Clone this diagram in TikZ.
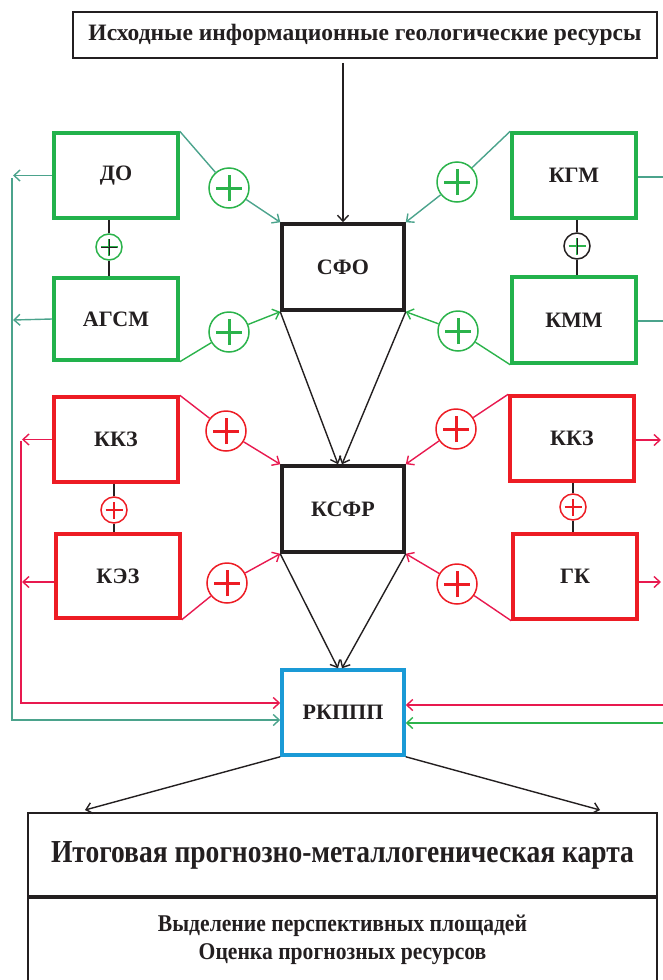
\documentclass[tikz,border=0pt]{standalone}
\usepackage{fontspec}
\setmainfont{Liberation Serif}
\newfontfamily\condf[FakeStretch=0.86]{Liberation Serif}
\newfontfamily\conds[FakeStretch=0.9]{Liberation Serif}
\usetikzlibrary{arrows.meta,calc}
\definecolor{gbox}{HTML}{22B24C}
\definecolor{gline}{HTML}{2BB34B}
\definecolor{tline}{HTML}{4BA38C}
\definecolor{rbox}{HTML}{ED1C24}
\definecolor{rline}{HTML}{E8194F}
\definecolor{bbox}{HTML}{1A9AD6}
\definecolor{kk}{HTML}{231F20}
\tikzset{
  box/.style={draw=#1, line width=3.5pt, minimum width=124pt, minimum height=85pt, inner sep=0pt, text=kk, font=\bfseries\fontsize{22}{24}\selectfont},
  cbox/.style={draw=kk, line width=3.5pt, minimum width=122pt, minimum height=86pt, inner sep=0pt, text=kk, font=\bfseries\fontsize{22}{24}\selectfont},
  bigplus/.style={circle, draw=#1, line width=1.5pt, fill=white, minimum size=40pt, inner sep=0pt,
    path picture={\draw[#1, line width=3pt] (path picture bounding box.center) ++(-13pt,0) -- ++(26pt,0)
      (path picture bounding box.center) ++(0,-13pt) -- ++(0,26pt);}},
  smallplus/.style 2 args={circle, draw=#1, line width=1.5pt, fill=white, minimum size=26pt, inner sep=0pt,
    path picture={\draw[#2, line width=2.6pt] (path picture bounding box.center) ++(-8.5pt,0) -- ++(17pt,0)
      (path picture bounding box.center) ++(0,-8.5pt) -- ++(0,17pt);}},
  conn/.style={line width=1.4pt, draw=#1},
  arr/.style={line width=1.4pt, draw=#1, -{Straight Barb[length=6pt,width=11pt,line width=1.4pt]}},
}
\begin{document}
\begin{tikzpicture}[x=1pt,y=-1pt]
\useasboundingbox (0,0) rectangle (663,980);
% top source
\node[draw=kk, line width=1.5pt, minimum width=584pt, minimum height=46pt, inner sep=0pt, text=kk,
  font=\bfseries\fontsize{23.5}{26}\selectfont] (src) at (365,35) {Исходные информационные геологические ресурсы};
% central boxes
\node[cbox] (sfo) at (343,267) {СФО};
\node[cbox] (ksfr) at (343,509) {КСФР};
\node[draw=bbox, line width=3.5pt, minimum width=122pt, minimum height=85pt, inner sep=0pt, text=kk,
  font=\bfseries\fontsize{22}{24}\selectfont] (rk) at (343,712.5) {РКППП};
% green group
\node[box=gbox] (do) at (116,175.5) {ДО};
\node[box=gbox, minimum height=82pt] (agsm) at (116,319) {АГСМ};
\node[box=gbox] (kgm) at (574,175.5) {КГМ};
\node[box=gbox, minimum height=86pt] (kmm) at (574,320) {КММ};
% red group
\node[box=rbox] (kkzl) at (116,439.5) {ККЗ};
\node[box=rbox, minimum height=84pt] (kez) at (118,576) {КЭЗ};
\node[box=rbox] (kkzr) at (572,438.5) {ККЗ};
\node[box=rbox] (gk) at (575,576.5) {ГК};
% bottom boxes
\node[minimum width=629pt, minimum height=84pt, inner sep=0pt, text=kk,
  font=\condf\bfseries\fontsize{32}{36}\selectfont] (res) at (342.5,855) {Итоговая прогнозно-металлогеническая карта};
\node[minimum width=629pt, minimum height=83pt, inner sep=0pt, text=kk, align=center,
  font=\conds\bfseries\fontsize{24}{28}\selectfont] (sel) at (342.5,940) {Выделение перспективных площадей\\Оценка прогнозных ресурсов};
\draw[kk, line width=2pt] (res.south west) -- (res.north west) -- (res.north east) -- (res.south east);
\draw[kk, line width=3.5pt] (res.south west) -- (res.south east);
\draw[kk, line width=2pt] (res.south west) -- (sel.south west);
\draw[kk, line width=2pt] (res.south east) -- (sel.south east);
% source to SFO
\draw[arr=kk] (src.south -| sfo.north) ++(0,4) coordinate (s0) (s0) -- (sfo.north);
% plus circles green
\node[bigplus=gline] (p1) at (229,188) {};
\node[bigplus=gline] (p2) at (229,332) {};
\node[bigplus=gline] (p3) at (457,182) {};
\node[bigplus=gline] (p4) at (458,331) {};
\draw[conn=tline] (do.north east) -- (p1);
\draw[arr=tline] (p1) -- (sfo.north west);
\draw[conn=gline] (agsm.south east) -- (p2);
\draw[arr=gline] (p2) -- (sfo.south west);
\draw[conn=tline] (kgm.north west) -- (p3);
\draw[arr=tline] (p3) -- (sfo.north east);
\draw[conn=gline] (kmm.south west) -- (p4);
\draw[arr=gline] (p4) -- (sfo.south east);
% small plus green
\node[smallplus={gline}{gline}] (sp1) at (109,247) {};
\draw[conn=kk] (sp1.north) -- (sp1.north |- do.south);
\draw[conn=kk] (sp1.south) -- (sp1.south |- agsm.north);
\draw[kk, line width=0.9pt] (sp1.center) ++(-8pt,0) -- ++(16pt,0) (sp1.center) ++(0,-8pt) -- ++(0,16pt);
\node[smallplus={kk}{gline}] (sp2) at (577,246) {};
\draw[conn=kk] (sp2.north) -- (sp2.north |- kgm.south);
\draw[conn=kk] (sp2.south) -- (sp2.south |- kmm.north);
\draw[kk, line width=0.9pt] (sp2.center) ++(0,-8pt) -- ++(0,16pt);
% red plus circles
\node[bigplus=rbox] (p5) at (226,431) {};
\node[bigplus=rbox] (p6) at (227,583) {};
\node[bigplus=rbox] (p7) at (456,429) {};
\node[bigplus=rbox] (p8) at (457,584) {};
\draw[conn=rline] (kkzl.north east) -- (p5);
\draw[arr=rline] (p5) -- (ksfr.north west);
\draw[conn=rline] (kez.south east) -- (p6);
\draw[arr=rline] (p6) -- (ksfr.south west);
\draw[conn=rline] (kkzr.north west) -- (p7);
\draw[arr=rline] (p7) -- (ksfr.north east);
\draw[conn=rline] (gk.south west) -- (p8);
\draw[arr=rline] (p8) -- (ksfr.south east);
\node[smallplus={rbox}{rbox}] (sp3) at (114,510) {};
\draw[conn=kk] (sp3.north) -- (sp3.north |- kkzl.south);
\draw[conn=kk] (sp3.south) -- (sp3.south |- kez.north);
\node[smallplus={rbox}{rbox}] (sp4) at (573,507) {};
\draw[conn=kk] (sp4.north) -- (sp4.north |- kkzr.south);
\draw[conn=kk] (sp4.south) -- (sp4.south |- gk.north);
% black flows
\draw[arr=kk] (sfo.south west) -- ($(ksfr.north)+(-5,0)$);
\draw[arr=kk] (sfo.south east) -- ($(ksfr.north)+(-1,0)$);
\draw[arr=kk] (ksfr.south west) -- ($(rk.north)+(-5,0)$);
\draw[arr=kk] (ksfr.south east) -- ($(rk.north)+(-1,0)$);
\coordinate (bl) at (85,810);
\coordinate (br) at (600,810);
\draw[arr=kk] (rk.south west) -- (bl);
\draw[arr=kk] (rk.south east) -- (br);
% left teal bus
\coordinate (tl1) at (13,175.5);
\coordinate (tl2) at (13,320);
\coordinate (tlt) at (12,178);
\coordinate (tlb) at (12,720);
\draw[arr=tline] (do.west) -- (tl1);
\draw[arr=tline] (agsm.west) -- (tl2);
\draw[arr=tline] (tlt) -- (tlb) -- (tlb -| rk.west);
% left red bus
\coordinate (rl1) at (22,439.5);
\coordinate (rl2) at (22,582);
\coordinate (rlt) at (21,441);
\coordinate (rlb) at (21,703);
\draw[arr=rline] (kkzl.west) -- (rl1);
\draw[arr=rline] ($(kez.west)+(0,6)$) -- (rl2);
\draw[arr=rline] (rlt) -- (rlb) -- (rlb -| rk.west);
% right side
\coordinate (rt1) at (663,177);
\coordinate (rt2) at (663,321);
\draw[conn=tline] (kgm.east |- rt1) -- (rt1);
\draw[conn=tline] (kmm.east |- rt2) -- (rt2);
\coordinate (rr1) at (661,440);
\coordinate (rr2) at (661,582);
\draw[arr=rline] (kkzr.east |- rr1) -- (rr1);
\draw[arr=rline] (gk.east |- rr2) -- (rr2);
\coordinate (rin1) at (663,705);
\coordinate (rin2) at (663,723);
\draw[arr=rline] (rin1) -- (rin1 -| rk.east);
\draw[arr=gline] (rin2) -- (rin2 -| rk.east);
\end{tikzpicture}
\end{document}
